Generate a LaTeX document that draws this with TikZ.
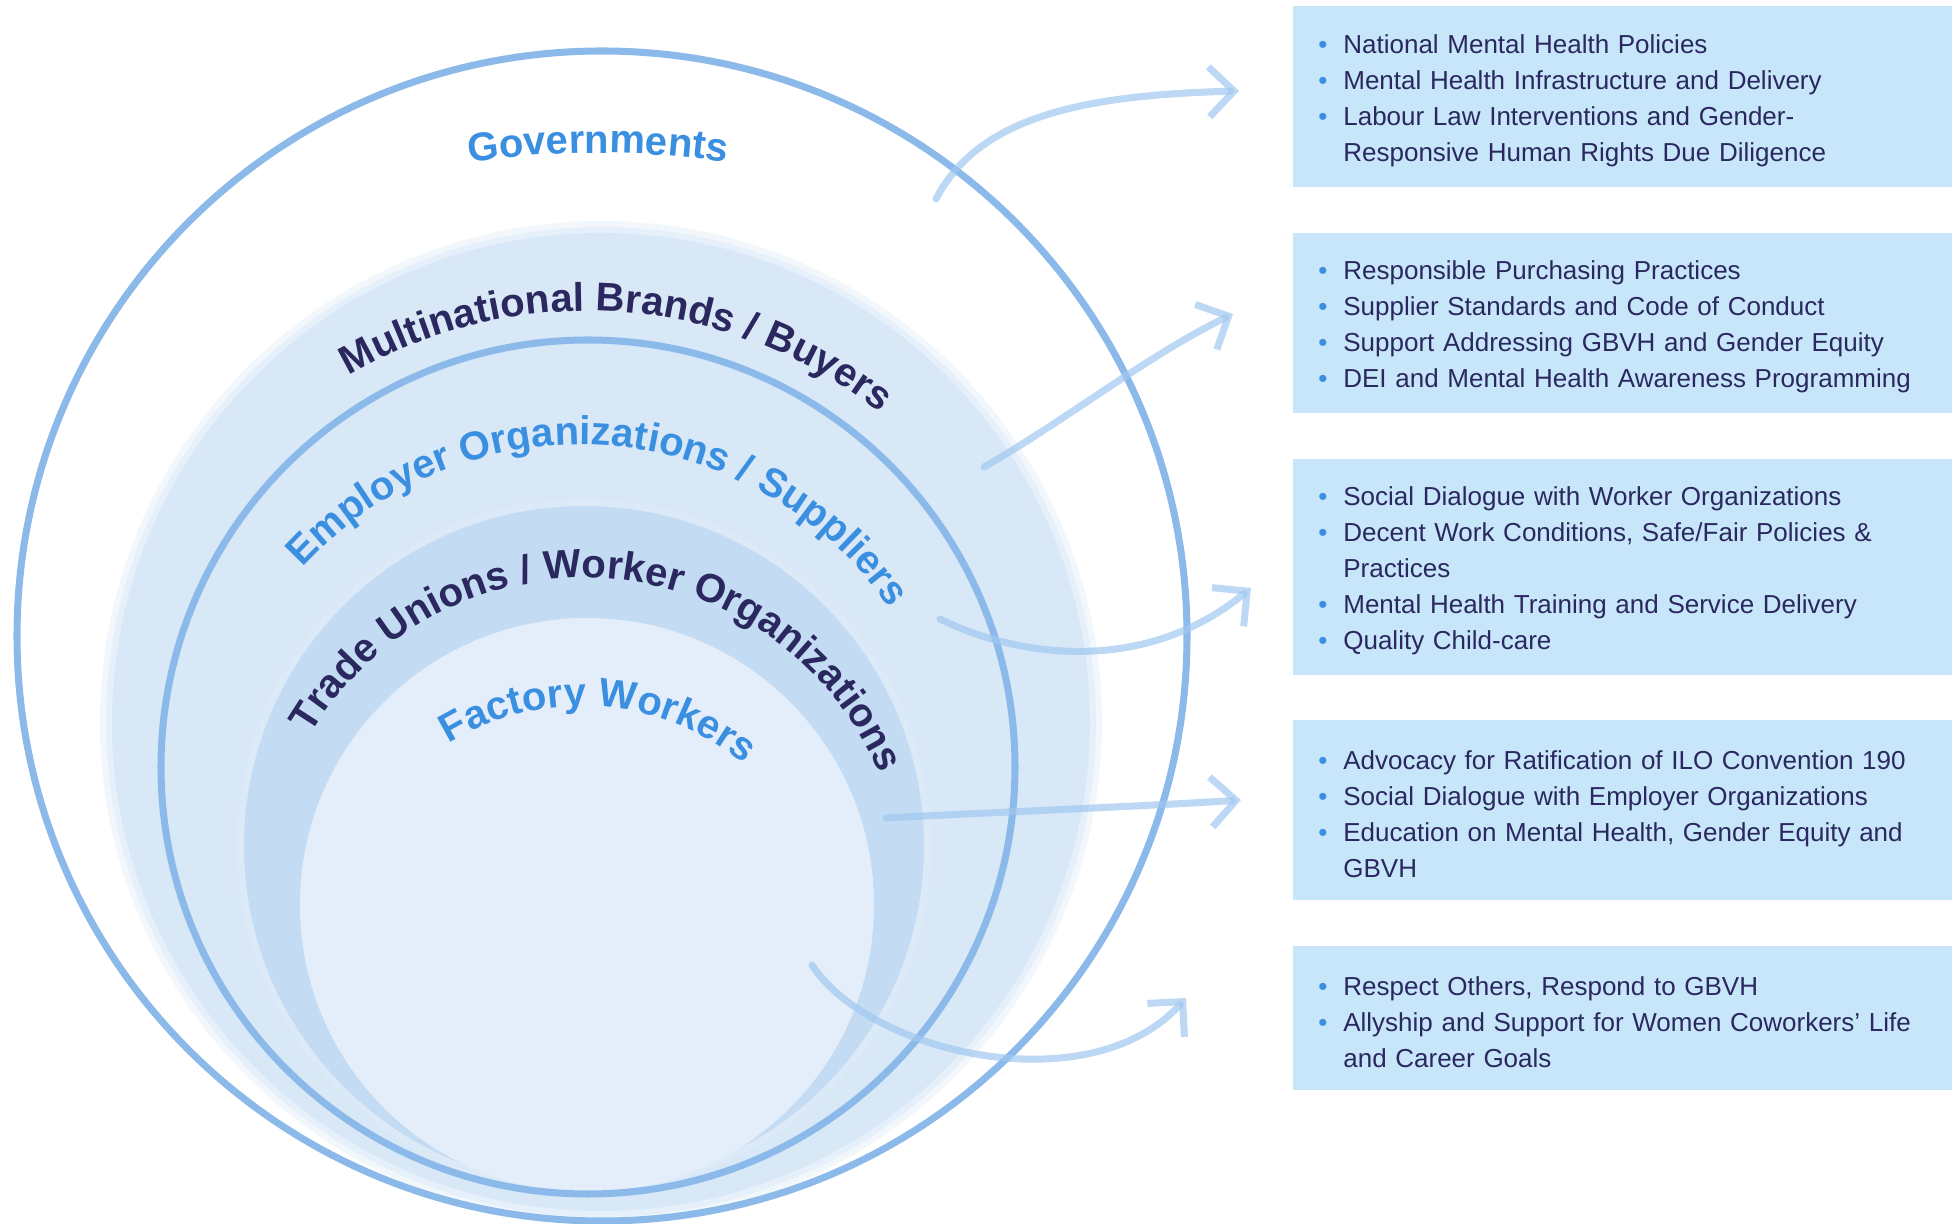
\documentclass[tikz,border=0pt]{standalone}
\usepackage{fontspec}
\setmainfont{Liberation Sans}
\usetikzlibrary{arrows.meta, positioning, decorations.text}
\definecolor{cNavy}{RGB}{42,40,94}
\definecolor{cSky}{RGB}{58,143,224}
\definecolor{cRing}{RGB}{139,186,234}
\definecolor{cDisc}{RGB}{217,232,247}
\definecolor{cUnion}{RGB}{196,220,243}
\definecolor{cCore}{RGB}{228,238,250}
\definecolor{cBox}{RGB}{199,230,250}
\definecolor{cArrow}{RGB}{160,200,240}
\newcommand{\arcfont}{\fontsize{22.8pt}{26pt}\selectfont\bfseries}
\newcommand{\bpt}{\rule{0pt}{0.53cm}\makebox[0.5cm][l]{\textcolor{cSky}{\textbullet}}}
\newcommand{\bind}{\hspace*{0.5cm}}
\tikzset{
	ringline/.style ={draw=cRing, line width=4pt},
	listbox/.style  ={rectangle, fill=cBox, text=cNavy, text width=12.8cm, inner xsep=0.5cm, inner ysep=0pt, align=left, font=\fontsize{14.8pt}{20.5pt}\selectfont},
	reach/.style    ={-{Straight Barb[length=0.5cm, width=1cm]}, draw=cArrow, line width=4pt, line cap=round, draw opacity=0.7},
	arclabel/.style 2 args={decorate, decoration={text along path, text align=center, text={|\arcfont\color{#1}|#2}}},
}

\begin{document}
\begin{tikzpicture}[x=0.02cm, y=0.02cm, node distance=0.9cm]
	\useasboundingbox (0,0) rectangle (1952,1224);
	% nested circles, soft rims
	\fill[cDisc!35] (601,502) circle (501);
	\fill[cDisc!65] (601,502) circle (495);
	\fill[cDisc] (601,502) circle (489);
	\fill[cUnion!60] (584,378) circle (347);
	\fill[cUnion] (584,378) circle (340);
	\fill[cCore] (587,319) circle (287);
	\draw[ringline] (588,457) circle (427);
	\draw[ringline] (602,588) circle (585);
	% labels along the arcs
	\path[arclabel={cSky}{Governments}] ([shift={(110:900)}]598,171) arc[start angle=110, end angle=70, radius=900];
	\path[arclabel={cNavy}{Multinational Brands / Buyers}] ([shift={(156:473)}]587,440) arc[start angle=156, end angle=16, radius=473];
	\path[arclabel={cSky}{Employer Organizations / Suppliers}] ([shift={(161:375)}]580,404) arc[start angle=161, end angle=11, radius=375];
	\path[arclabel={cNavy}{Trade Unions / Worker Organizations}] ([shift={(166:319)}]585,327) arc[start angle=166, end angle=6, radius=319];
	\path[arclabel={cSky}{Factory Workers}] ([shift={(156:254)}]582,264) arc[start angle=156, end angle=16, radius=254];
	% action lists
	\node[listbox, minimum height=3.62cm, anchor=north west] (gov) at (1293,1218) {\bpt National Mental Health Policies\\ \bpt Mental Health Infrastructure and Delivery\\ \bpt Labour Law Interventions and Gender-\\ \bind Responsive Human Rights Due Diligence};
	\node[listbox, minimum height=3.6cm, below=of gov] (brand) {\bpt Responsible Purchasing Practices\\ \bpt Supplier Standards and Code of Conduct\\ \bpt Support Addressing GBVH and Gender Equity\\ \bpt DEI and Mental Health Awareness Programming};
	\node[listbox, minimum height=4.32cm, below=of brand] (employer) {\bpt Social Dialogue with Worker Organizations\\ \bpt Decent Work Conditions, Safe/Fair Policies \&\\ \bind Practices\\ \bpt Mental Health Training and Service Delivery\\ \bpt Quality Child-care};
	\node[listbox, minimum height=3.6cm, below=of employer] (union) {\bpt Advocacy for Ratification of ILO Convention 190\\ \bpt Social Dialogue with Employer Organizations\\ \bpt Education on Mental Health, Gender Equity and\\ \bind GBVH};
	\node[listbox, minimum height=2.88cm, below=of union] (worker) {\bpt Respect Others, Respond to GBVH\\ \bpt Allyship and Support for Women Coworkers’ Life\\ \bind and Career Goals};
	% arrows out of the rings
	\coordinate (govtail) at (936,1025);   \coordinate (govtip) at (1239,1133);
	\coordinate (brandtail) at (984,757);  \coordinate (brandtip) at (1233,910);
	\coordinate (emptail) at (940,605);    \coordinate (emptip) at (1251,636);
	\coordinate (uniontail) at (886,406);  \coordinate (uniontip) at (1241,424);
	\coordinate (worktail) at (812,259);   \coordinate (worktip) at (1186,226);
	\draw[reach] (govtail) .. controls (980,1110) and (1090,1129) .. (govtip);
	\draw[reach] (brandtail) .. controls (1060,800) and (1150,870) .. (brandtip);
	\draw[reach] (emptail) .. controls (1010,570) and (1140,545) .. (emptip);
	\draw[reach] (uniontail) .. controls (1000,412) and (1150,418) .. (uniontip);
	\draw[reach] (worktail) .. controls (870,170) and (1090,120) .. (worktip);
\end{tikzpicture}
\end{document}
